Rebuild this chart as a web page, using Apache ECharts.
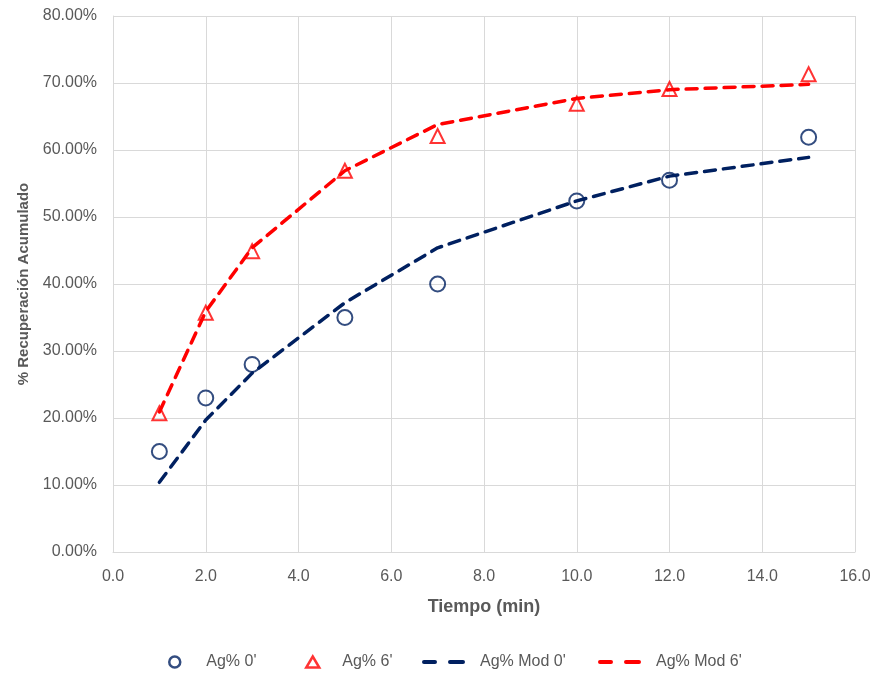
<!DOCTYPE html>
<html>
<head>
<meta charset="utf-8">
<script src="https://cdn.jsdelivr.net/npm/echarts@6/dist/echarts.min.js"></script>
<style>html,body{margin:0;padding:0;background:#fff}#c{width:879px;height:675px}</style>
</head>
<body>
<div id="c"></div>
<script>
const timeMin = [1, 2, 3, 5, 7, 10, 12, 15];
const ag0 = [15.0, 23.0, 28.0, 35.0, 40.0, 52.4, 55.5, 61.9];
const ag6 = [20.7, 35.7, 44.9, 56.9, 62.1, 66.9, 69.1, 71.3];
const agMod0 = [10.4, 19.7, 26.7, 37.2, 45.4, 52.4, 56.1, 58.9];
const agMod6 = [20.9, 35.9, 45.4, 56.9, 63.8, 67.7, 69.0, 69.8];
const xTicks = { min: 0, max: 16, interval: 2 };
const yTicks = { min: 0, max: 80, interval: 10 };

const pair = (xs, ys) => xs.map((x, i) => [x, ys[i]]);
const NAVY = '#002060', RED = '#FF0000';
const FONT = 'Liberation Sans';
const DASH_ICON = 'path://M2,0h11a2,2 0 0 1 0,4h-11a2,2 0 0 1 0,-4z M28,0h13a2,2 0 0 1 0,4h-13a2,2 0 0 1 0,-4z';
const legendText = pad => ({ color: '#595959', fontSize: 16, fontFamily: FONT, padding: [0, 0, 0, pad] });

const chart = echarts.init(document.getElementById('c'), null, { renderer: 'canvas' });
chart.setOption({
  animation: false,
  textStyle: { fontFamily: FONT },
  grid: { left: 113, right: 24, top: 16, bottom: 123, containLabel: false },
  xAxis: {
    type: 'value', min: xTicks.min, max: xTicks.max, interval: xTicks.interval,
    name: 'Tiempo (min)', nameLocation: 'middle', nameGap: 46,
    nameTextStyle: { fontFamily: FONT, fontWeight: 'bold', fontSize: 18, color: '#595959' },
    axisLine: { lineStyle: { color: '#d9d9d9', width: 1 } },
    axisTick: { show: false },
    axisLabel: { formatter: v => v.toFixed(1), color: '#595959', fontSize: 16, margin: 17 },
    splitLine: { show: true, lineStyle: { color: '#d9d9d9', width: 1 } }
  },
  yAxis: {
    type: 'value', min: yTicks.min, max: yTicks.max, interval: yTicks.interval,
    name: '% Recuperación Acumulado', nameLocation: 'middle', nameGap: 79, nameRotate: 90,
    nameTextStyle: { fontFamily: FONT, fontWeight: 'bold', fontSize: 15, color: '#595959' },
    axisLine: { show: true, lineStyle: { color: '#d9d9d9', width: 1 } },
    axisTick: { show: false },
    axisLabel: { formatter: v => v.toFixed(2) + '%', color: '#595959', fontSize: 16, margin: 16 },
    splitLine: { show: true, lineStyle: { color: '#d9d9d9', width: 1 } }
  },
  legend: [
    { left: 163, top: 649, itemWidth: 11, itemHeight: 11, textStyle: legendText(21),
      data: [{ name: "Ag% 0'", icon: 'circle', itemStyle: { color: '#fff', borderColor: NAVY, borderWidth: 2.5 } }] },
    { left: 300, top: 649, itemWidth: 13, itemHeight: 11, textStyle: legendText(18),
      data: [{ name: "Ag% 6'", icon: 'triangle', itemStyle: { color: '#fff', borderColor: RED, borderWidth: 2.5 } }] },
    { left: 417, top: 649, itemWidth: 43, itemHeight: 4, textStyle: legendText(10),
      data: [{ name: "Ag% Mod 0'", icon: DASH_ICON, itemStyle: { color: NAVY, borderWidth: 0 } }] },
    { left: 593, top: 649, itemWidth: 43, itemHeight: 4, textStyle: legendText(10),
      data: [{ name: "Ag% Mod 6'", icon: DASH_ICON, itemStyle: { color: RED, borderWidth: 0 } }] }
  ],
  series: [
    { name: "Ag% Mod 0'", type: 'line', data: pair(timeMin, agMod0), showSymbol: false, symbol: 'none',
      lineStyle: { color: NAVY, width: 3.5, type: [11, 8], cap: 'round' }, itemStyle: { color: NAVY }, z: 2 },
    { name: "Ag% Mod 6'", type: 'line', data: pair(timeMin, agMod6), showSymbol: false, symbol: 'none',
      lineStyle: { color: RED, width: 3.5, type: [11, 8], cap: 'round' }, itemStyle: { color: RED }, z: 2 },
    { name: "Ag% 0'", type: 'scatter', data: pair(timeMin, ag0), symbol: 'circle', symbolSize: 15,
      itemStyle: { color: 'transparent', borderColor: NAVY, borderWidth: 2 }, z: 3 },
    { name: "Ag% 6'", type: 'scatter', data: pair(timeMin, ag6), symbol: 'triangle', symbolSize: 14,
      itemStyle: { color: 'transparent', borderColor: RED, borderWidth: 2 }, z: 3 }
  ]
});
</script>
</body>
</html>
